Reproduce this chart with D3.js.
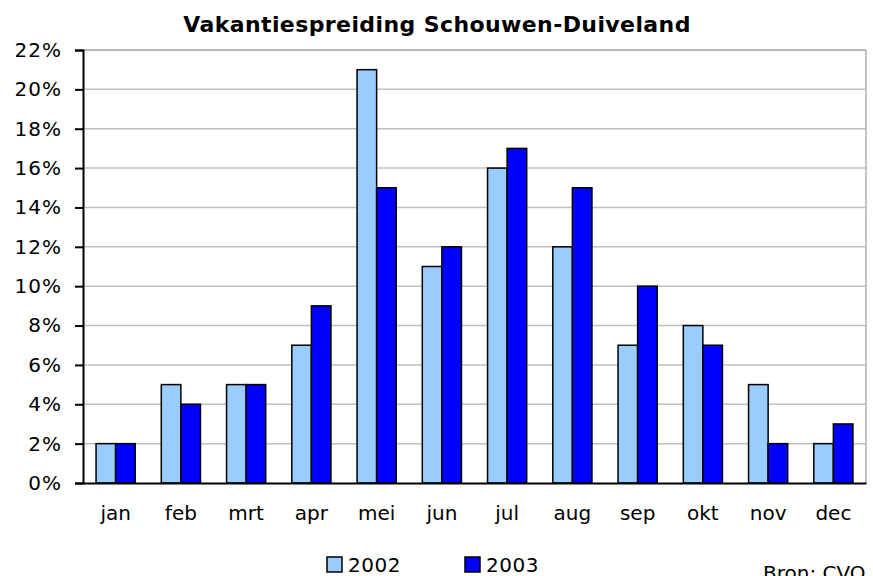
<!DOCTYPE html>
<html>
<head>
<meta charset="utf-8">
<script src="https://cdn.jsdelivr.net/npm/d3@7"></script>
<style>
  body { margin: 0; background: #fff; }
  text { font-family: "DejaVu Sans", Verdana, sans-serif; fill: #000; }
</style>
</head>
<body>
<div id="chart"></div>
<script>
  const months = ['jan', 'feb', 'mrt', 'apr', 'mei', 'jun', 'jul', 'aug', 'sep', 'okt', 'nov', 'dec'];
  const years = ['2002', '2003'];
  const values2002 = [2, 5, 5, 7, 21, 11, 16, 12, 7, 8, 5, 2];
  const values2003 = [2, 4, 5, 9, 15, 12, 17, 15, 10, 7, 2, 3];
  const yTicks = [0, 2, 4, 6, 8, 10, 12, 14, 16, 18, 20, 22];
  const colors = ['#99CCFF', '#0000FF'];

  const width = 873, height = 576;
  const margin = {left: 83, right: 7, top: 50, bottom: 93};

  const svg = d3.select('#chart').append('svg')
    .attr('width', width).attr('height', height);

  const x = d3.scaleBand().domain(months)
    .range([margin.left, width - margin.right]).paddingInner(0.4).paddingOuter(0.2);
  const xs = d3.scaleBand().domain(years).range([0, x.bandwidth()]);
  const y = d3.scaleLinear().domain([0, 22]).range([height - margin.bottom, margin.top]);

  // gridlines
  svg.append('g').selectAll('line').data(yTicks.slice(1))
    .join('line')
    .attr('x1', margin.left).attr('x2', width - margin.right)
    .attr('y1', d => y(d)).attr('y2', d => y(d))
    .attr('stroke', d => d == 22 ? '#a0a0a0' : '#c0c0c0').attr('stroke-width', 1.5);

  // right border
  svg.append('line')
    .attr('x1', width - margin.right).attr('x2', width - margin.right)
    .attr('y1', margin.top).attr('y2', y(0))
    .attr('stroke', '#b0b0b0').attr('stroke-width', 1.5);

  // bars
  const series = [values2002, values2003];
  series.forEach((vals, s) => {
    svg.append('g').selectAll('rect').data(vals)
      .join('rect')
      .attr('x', (d, i) => x(months[i]) + xs(years[s]))
      .attr('y', d => y(d))
      .attr('width', xs.bandwidth())
      .attr('height', d => y(0) - y(d))
      .attr('fill', colors[s])
      .attr('stroke', '#000').attr('stroke-width', 1.5);
  });

  // y axis
  const yAxis = svg.append('g')
    .attr('transform', `translate(${margin.left},0)`)
    .call(d3.axisLeft(y).tickValues(yTicks).tickFormat(d => d + '%').tickSizeOuter(0).tickSize(8).tickPadding(13));
  yAxis.select('.domain').attr('stroke', '#000').attr('stroke-width', 2);
  yAxis.selectAll('.tick line').attr('stroke', '#000').attr('stroke-width', 2);
  yAxis.selectAll('text').style('font-size', '20px').style('letter-spacing', '1px').attr('fill', '#000');

  // x axis
  const xAxis = svg.append('g')
    .attr('transform', `translate(0,${y(0)})`)
    .call(d3.axisBottom(x).tickSize(0).tickSizeOuter(0).tickPadding(23));
  xAxis.select('.domain').attr('stroke', '#000').attr('stroke-width', 2);
  xAxis.selectAll('text').style('font-size', '20px').attr('fill', '#000');

  // title
  svg.append('text')
    .attr('x', 437).attr('y', 32)
    .attr('text-anchor', 'middle')
    .style('font-size', '22px').style('font-weight', 'bold').style('letter-spacing', '0.4px')
    .text('Vakantiespreiding Schouwen-Duiveland');

  // legend
  const legendX = [327, 465];
  years.forEach((yr, s) => {
    svg.append('rect')
      .attr('x', legendX[s]).attr('y', 557)
      .attr('width', 15).attr('height', 15)
      .attr('fill', colors[s]).attr('stroke', '#000').attr('stroke-width', 1.5);
    svg.append('text')
      .attr('x', legendX[s] + 21).attr('y', 572)
      .style('font-size', '20px').style('letter-spacing', '0.5px')
      .text(yr);
  });

  svg.append('text')
    .attr('x', 763).attr('y', 580)
    .style('font-size', '20px')
    .text('Bron: CVO');
</script>
</body>
</html>
